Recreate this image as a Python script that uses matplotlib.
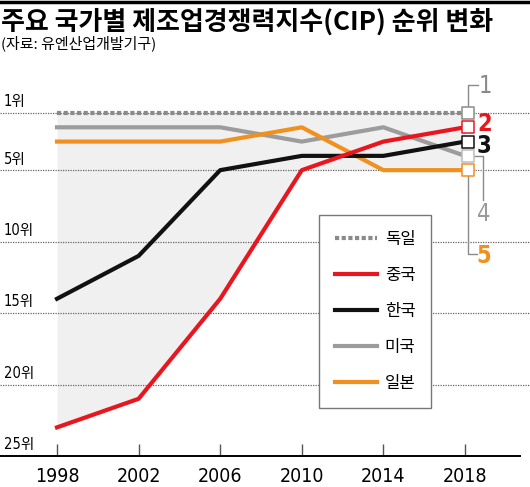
import numpy as np
import matplotlib
matplotlib.use('Agg')
import matplotlib.pyplot as plt

plt.rcParams['font.family'] = ['Noto Sans CJK KR', 'DejaVu Sans']

years = [1998, 2002, 2006, 2010, 2014, 2018]
germany = [1, 1, 1, 1, 1, 1]
china = [23, 21, 14, 5, 3, 2]
korea = [14, 11, 5, 4, 4, 3]
usa = [2, 2, 2, 3, 2, 4]
japan = [3, 3, 3, 2, 5, 5]

series_names = ['독일', '중국', '한국', '미국', '일본']
rank_ticks = [1, 5, 10, 15, 20, 25]
rank_labels = ['1위', '5위', '10위', '15위', '20위', '25위']
final_ranks = [1, 2, 3, 4, 5]

title = '주요 국가별 제조업경쟁력지수(CIP) 순위 변화'
subtitle = '(자료: 유엔산업개발기구)'

C_GER = '#8a8a8a'
C_CHN = '#e8171f'
C_KOR = '#111111'
C_USA = '#9c9c9c'
C_JPN = '#f0901e'
NARROW = ['DejaVu Sans', 'Noto Sans CJK KR']

W, H = 530, 487
fig = plt.figure(figsize=(W / 100, H / 100), dpi=100)

# pixel layout of the plotting area
X1998, PX_PER_YEAR = 57, 20.4
Y_RANK1, PX_PER_RANK = 113, 14.29
TOP_PX, BOT_PX = 62, 456


def px2x(px):
    return 1998 + (px - X1998) / PX_PER_YEAR


def px2y(py):
    return 1 + (py - Y_RANK1) / PX_PER_RANK


ax = fig.add_axes([0, (H - BOT_PX) / H, 1, (BOT_PX - TOP_PX) / H])
ax.set_xlim(px2x(0), px2x(W))
ax.set_ylim(px2y(BOT_PX), px2y(TOP_PX))
ax.set_facecolor('none')

all_vals = np.array([germany, china, korea, usa, japan])
ax.fill_between(years, all_vals.min(axis=0), all_vals.max(axis=0),
                color='#f0f0f0', lw=0, zorder=0)

for r in rank_ticks[:-1]:
    ax.axhline(r, color='#666666', lw=0.9, ls=(0, (1, 1)), zorder=1)

ax.plot(years, usa, color=C_USA, lw=3, label='미국', zorder=3)
ax.plot(years, japan, color=C_JPN, lw=3, label='일본', zorder=3)
ax.plot(years, korea, color=C_KOR, lw=3, label='한국', zorder=4)
ax.plot(years, china, color=C_CHN, lw=3, label='중국', zorder=5)
ax.plot(years, germany, color=C_GER, lw=3, ls=(0, (1, 0.6)),
        label='독일', zorder=3)

# end-point squares
edge_cols = [C_GER, C_CHN, C_KOR, '#bdbdbd', C_JPN]
ax.scatter([years[-1] + 0.15] * 5, final_ranks, marker='s', s=75,
           facecolor='white', edgecolor=edge_cols, linewidths=1.1, zorder=6)

# bracket labels on the right
bc = '#8a8a8a'
xs = years[-1] + 0.15
ax.plot([xs, xs, px2x(478)], [1, px2y(85), px2y(85)], color=bc, lw=1, zorder=2)
ax.plot([px2x(473), px2x(483), px2x(483)], [4, 4, px2y(200)], color=bc, lw=1, zorder=2)
ax.plot([xs, xs, px2x(477)], [5, px2y(254), px2y(254)], color=bc, lw=1, zorder=2)
num_kw = dict(fontsize=17, family=NARROW, fontstretch='condensed',
              va='center', ha='left', zorder=7)
ax.text(px2x(479), px2y(86), '1', color='#888888', **num_kw)
ax.text(px2x(477), px2y(124), '2', color=C_CHN, fontweight='bold', **num_kw)
ax.text(px2x(477), px2y(146), '3', color=C_KOR, fontweight='bold', **num_kw)
ax.text(px2x(477), px2y(214), '4', color='#999999', **num_kw)
ax.text(px2x(476), px2y(256), '5', color=C_JPN, fontweight='bold', **num_kw)

# y labels sitting on the grid lines
for r, lab in zip(rank_ticks, rank_labels):
    ax.text(4 / W, r - 0.25, lab, transform=ax.get_yaxis_transform(),
            fontsize=10.5, family=NARROW, fontstretch='condensed',
            va='bottom', ha='left')

ax.set_yticks([])
ax.set_xticks(years)
ax.set_xticklabels([str(y) for y in years], family=NARROW,
                   fontstretch='condensed', fontsize=14)
ax.tick_params(axis='x', direction='in', length=9, width=1, color='#555555', pad=8)
for s in ['top', 'left', 'right']:
    ax.spines[s].set_visible(False)
ax.spines['bottom'].set_bounds(px2x(0), px2x(520))
ax.spines['bottom'].set_linewidth(1.4)

handles, labels = ax.get_legend_handles_labels()
order = [labels.index(n) for n in series_names]
leg = ax.legend([handles[i] for i in order], [labels[i] for i in order],
                loc='upper left', bbox_to_anchor=(319 / W, 1 - 215 / H),
                bbox_transform=fig.transFigure, fancybox=False,
                edgecolor='#777777', framealpha=1, fontsize=12,
                handlelength=2.5, handletextpad=0.5, labelspacing=1.14,
                borderpad=0.95, borderaxespad=0)
leg.get_frame().set_linewidth(1)
leg.set_zorder(8)

# header
fig.add_artist(plt.Line2D([0, 1], [1 - 1.5 / H, 1 - 1.5 / H],
                          transform=fig.transFigure, color='black', lw=2.5))
fig.text(1 / W, 1 - 22 / H, title, fontsize=18.7, fontweight=900,
         va='center', ha='left')
fig.text(1 / W, 1 - 43 / H, subtitle, fontsize=10.8, va='center', ha='left')

fig.savefig('out.png', dpi=100)
plt.close('all')
